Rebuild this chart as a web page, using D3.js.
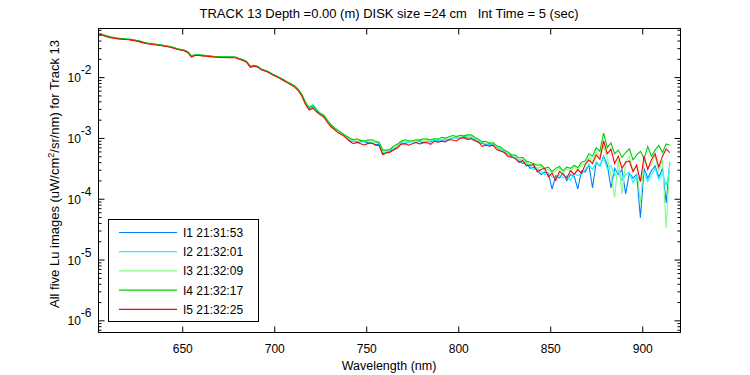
<!DOCTYPE html>
<html>
<head>
<meta charset="utf-8">
<script src="https://cdn.jsdelivr.net/npm/d3@7"></script>
<style>
body { margin: 0; background: #fff; }
svg { display: block; font-family: "Liberation Sans", Arial, sans-serif; }
</style>
</head>
<body>
<script>
// Lu spectra, five images, track 13. Values are log10(Lu), every 2 nm from 605 nm
var wlStart = 605, wlStep = 2;

var seriesNames = ["I1 21:31:53", "I2 21:32:01", "I3 21:32:09", "I4 21:32:17", "I5 21:32:25"];
var seriesColors = ["#0080ff", "#00ffff", "#80ff80", "#00cc00", "#ff0000"];

var xTicks = [650, 700, 750, 800, 850, 900];
var yTickExps = [-6, -5, -4, -3, -2];

var logLuI1 = [
  -1.29,-1.31,-1.33,-1.345,-1.355,-1.365,-1.372,-1.376,-1.38,-1.39,-1.40,-1.415,-1.432,-1.447,-1.454,-1.462,-1.47,-1.479,-1.49,-1.50,-1.515,-1.535,-1.55,-1.56,-1.59,-1.66,-1.64,-1.64,-1.646,-1.652,-1.658,-1.664,-1.668,-1.672,-1.674,-1.674,-1.675,-1.676,-1.70,-1.72,-1.75,-1.83,-1.815,-1.83,-1.875,-1.895,-1.92,-1.955,
  -1.985,-2.015,-2.05,-2.085,-2.115,-2.15,-2.21,-2.30,-2.43,-2.52,-2.49,-2.55,-2.61,-2.64,-2.73,-2.80,-2.855,-2.895,-2.935,-2.98,
  -3.045,-3.055,-3.08,-3.055,-3.065,-3.08,-3.075,-3.11,-3.105,-3.265,-3.235,-3.215,-3.195,-3.125,-3.10,-3.095,-3.07,-3.055,-3.075,-3.06,-3.08,-3.055,-3.065,-3.035,-3.06,-3.035,-3.035,-3.035,-2.995,-3.00,-3.00,-2.985,-3.005,-2.995,-3.025,-3.075,-3.09,-3.11,-3.095,-3.13,-3.155,-3.205,-3.245,-3.265,-3.305,
  -3.33,-3.38,-3.42,-3.40,-3.50,-3.48,-3.53,-3.60,-3.56,-3.58,-3.84,-3.62,-3.66,-3.58,-3.70,-3.60,-3.63,-3.84,-3.54,-3.56,
  -3.44,-3.82,-3.40,-3.46,-3.30,-3.44,-3.82,-3.50,-3.60,-3.52,-3.92,-3.58,-3.66,-3.60,-4.31,-3.50,-3.66,-3.54,-3.46,-3.64,-3.50,-4.07,-3.40
];
var logLuI2 = [
  -1.29,-1.31,-1.33,-1.343,-1.353,-1.364,-1.371,-1.376,-1.38,-1.389,-1.40,-1.414,-1.43,-1.446,-1.454,-1.461,-1.47,-1.478,-1.49,-1.50,-1.514,-1.534,-1.55,-1.56,-1.588,-1.66,-1.64,-1.64,-1.645,-1.651,-1.657,-1.663,-1.667,-1.671,-1.673,-1.673,-1.674,-1.675,-1.70,-1.72,-1.748,-1.83,-1.814,-1.83,-1.874,-1.894,-1.92,-1.954,
  -1.983,-2.012,-2.048,-2.082,-2.112,-2.148,-2.205,-2.295,-2.425,-2.50,-2.45,-2.53,-2.60,-2.63,-2.72,-2.79,-2.85,-2.89,-2.93,-2.97,
  -3.02,-3.06,-3.055,-3.07,-3.05,-3.065,-3.09,-3.075,-3.09,-3.24,-3.24,-3.20,-3.16,-3.13,-3.085,-3.06,-3.075,-3.06,-3.08,-3.045,-3.055,-3.06,-3.05,-3.03,-3.045,-3.03,-3.01,-3.03,-3.00,-2.985,-2.995,-2.98,-2.97,-3.00,-3.01,-3.06,-3.075,-3.095,-3.12,-3.105,-3.14,-3.19,-3.23,-3.25,-3.29,
  -3.34,-3.37,-3.40,-3.44,-3.45,-3.52,-3.50,-3.55,-3.60,-3.58,-3.64,-3.68,-3.60,-3.66,-3.62,-3.70,-3.58,-3.62,-3.60,-3.52,
  -3.44,-3.52,-3.40,-3.46,-3.32,-3.50,-3.46,-3.62,-3.54,-3.70,-3.60,-3.56,-3.74,-3.62,-3.70,-3.58,-3.72,-3.60,-3.50,-3.68,-3.56,-3.78,-3.52
];
var logLuI3 = [
  -1.285,-1.305,-1.325,-1.34,-1.35,-1.36,-1.368,-1.372,-1.376,-1.386,-1.396,-1.411,-1.428,-1.443,-1.45,-1.458,-1.466,-1.475,-1.486,-1.496,-1.511,-1.531,-1.546,-1.556,-1.586,-1.655,-1.636,-1.636,-1.642,-1.648,-1.654,-1.66,-1.664,-1.668,-1.67,-1.67,-1.671,-1.672,-1.696,-1.716,-1.746,-1.825,-1.81,-1.826,-1.871,-1.891,-1.916,-1.951,
  -1.98,-2.01,-2.045,-2.08,-2.11,-2.145,-2.2,-2.29,-2.42,-2.51,-2.48,-2.54,-2.6,-2.63,-2.72,-2.79,-2.85,-2.89,-2.93,-2.97,
  -3.02,-3.03,-3.055,-3.04,-3.05,-3.035,-3.07,-3.065,-3.08,-3.22,-3.22,-3.18,-3.16,-3.12,-3.055,-3.06,-3.045,-3.06,-3.05,-3.025,-3.045,-3.05,-3.03,-3.03,-3.005,-3.03,-3.00,-3.00,-2.99,-2.975,-2.985,-2.95,-2.97,-2.97,-3.01,-3.04,-3.065,-3.095,-3.07,-3.095,-3.15,-3.17,-3.21,-3.26,-3.27,
  -3.30,-3.36,-3.35,-3.40,-3.44,-3.43,-3.50,-3.47,-3.53,-3.52,-3.58,-3.54,-3.50,-3.58,-3.51,-3.55,-3.48,-3.53,-3.44,-3.42,
  -3.32,-3.38,-3.24,-3.30,-3.14,-3.34,-3.60,-3.98,-3.36,-3.92,-3.40,-3.30,-3.56,-3.44,-4.07,-3.36,-3.50,-3.44,-3.30,-3.54,-3.36,-4.48,-3.40
];
var logLuI4 = [
  -1.28,-1.30,-1.32,-1.338,-1.348,-1.358,-1.365,-1.37,-1.373,-1.383,-1.393,-1.408,-1.425,-1.44,-1.447,-1.455,-1.463,-1.472,-1.483,-1.493,-1.508,-1.528,-1.543,-1.553,-1.583,-1.65,-1.632,-1.632,-1.638,-1.644,-1.65,-1.656,-1.66,-1.664,-1.666,-1.666,-1.667,-1.668,-1.692,-1.712,-1.742,-1.82,-1.806,-1.822,-1.867,-1.887,-1.912,-1.947,
  -1.978,-2.008,-2.04,-2.075,-2.108,-2.14,-2.195,-2.285,-2.41,-2.505,-2.47,-2.535,-2.595,-2.625,-2.715,-2.785,-2.84,-2.88,-2.925,-2.965,
  -3.00,-3.03,-3.015,-3.04,-3.05,-3.035,-3.03,-3.055,-3.07,-3.20,-3.20,-3.19,-3.13,-3.10,-3.055,-3.03,-3.045,-3.05,-3.03,-3.035,-3.015,-3.02,-3.03,-3.01,-3.025,-2.99,-3.00,-2.98,-2.96,-2.975,-2.955,-2.97,-2.95,-2.95,-2.99,-3.02,-3.065,-3.055,-3.09,-3.075,-3.13,-3.15,-3.20,-3.23,-3.28,
  -3.28,-3.33,-3.32,-3.38,-3.40,-3.42,-3.45,-3.44,-3.50,-3.48,-3.55,-3.50,-3.47,-3.54,-3.48,-3.50,-3.45,-3.49,-3.40,-3.38,
  -3.26,-3.30,-3.16,-3.22,-2.92,-3.16,-3.08,-3.26,-3.20,-3.32,-3.24,-3.18,-3.36,-3.28,-3.22,-3.34,-3.14,-3.30,-3.20,-3.12,-3.24,-3.10,-3.12
];
var logLuI5 = [
  -1.29,-1.315,-1.335,-1.35,-1.36,-1.37,-1.375,-1.38,-1.385,-1.395,-1.405,-1.42,-1.437,-1.45,-1.46,-1.467,-1.475,-1.484,-1.495,-1.505,-1.52,-1.54,-1.555,-1.565,-1.595,-1.67,-1.645,-1.645,-1.65,-1.657,-1.663,-1.668,-1.672,-1.677,-1.678,-1.68,-1.68,-1.68,-1.705,-1.725,-1.755,-1.84,-1.82,-1.835,-1.88,-1.9,-1.925,-1.96,
  -1.99,-2.02,-2.055,-2.09,-2.125,-2.16,-2.22,-2.31,-2.45,-2.54,-2.51,-2.57,-2.62,-2.66,-2.75,-2.82,-2.87,-2.92,-2.95,-3.0,
  -3.055,-3.095,-3.07,-3.095,-3.115,-3.09,-3.085,-3.12,-3.125,-3.275,-3.245,-3.235,-3.195,-3.165,-3.10,-3.095,-3.12,-3.095,-3.075,-3.10,-3.08,-3.075,-3.105,-3.055,-3.07,-3.055,-3.065,-3.025,-3.035,-3.05,-3.01,-2.995,-3.025,-3.015,-3.045,-3.065,-3.14,-3.12,-3.135,-3.12,-3.195,-3.215,-3.235,-3.305,-3.315,
  -3.34,-3.40,-3.37,-3.46,-3.45,-3.44,-3.56,-3.52,-3.50,-3.64,-3.58,-3.70,-3.55,-3.60,-3.66,-3.54,-3.60,-3.52,-3.58,-3.44,
  -3.36,-3.42,-3.28,-3.35,-3.05,-3.26,-3.18,-3.42,-3.30,-3.50,-3.40,-3.38,-3.55,-3.45,-3.72,-3.30,-3.52,-3.36,-3.26,-3.48,-3.30,-3.18,-3.24
];

var allSeries = [logLuI1, logLuI2, logLuI3, logLuI4, logLuI5];

var svg = d3.select("body").append("svg").attr("width", 750).attr("height", 375),
    margin = {top: 28, right: 70, bottom: 43, left: 98},
    width = 750 - margin.left - margin.right,
    height = 375 - margin.top - margin.bottom,
    g = svg.append("g").attr("transform", "translate(" + (margin.left + 0.5) + "," + (margin.top + 0.5) + ")");

var x = d3.scaleLinear().domain([604.5, 920.8]).range([0, width]);
var y = d3.scaleLog().domain([Math.pow(10, -6.2), Math.pow(10, -1.2)]).range([height, 0]);

// minor log ticks 2..9 for each decade
var minorTicks = [];
for (var e = -7; e <= -2; e++) {
  for (var m = 2; m <= 9; m++) {
    var v = m * Math.pow(10, e);
    if (v >= y.domain()[0] && v <= y.domain()[1]) minorTicks.push(v);
  }
}
var majorTicks = yTickExps.map(function(p) { return Math.pow(10, p); });

g.append("defs").append("clipPath").attr("id", "clip")
  .append("rect").attr("width", width).attr("height", height);

var line = d3.line()
    .x(function(d) { return x(d.wl); })
    .y(function(d) { return y(d.lu); });

var lines = g.append("g").attr("clip-path", "url(#clip)");
allSeries.forEach(function(s, k) {
  var rows = s.map(function(v, i) { return {wl: wlStart + i * wlStep, lu: Math.pow(10, v)}; });
  lines.append("path")
    .datum(rows)
    .attr("fill", "none")
    .attr("stroke", seriesColors[k])
    .attr("stroke-width", 1.1)
    .attr("d", line);
});

// axes: MATLAB style box with inward ticks
function plain(sel) {
  sel.select(".domain").remove();
  sel.selectAll(".tick line").attr("stroke", "#000");
  sel.selectAll("text").attr("fill", "#000").attr("font-size", 12);
}

g.append("g")
  .attr("transform", "translate(0," + height + ")")
  .call(d3.axisBottom(x).tickValues(xTicks).tickSize(-6).tickPadding(12).tickFormat(d3.format("d")))
  .call(plain);

g.append("g")
  .call(d3.axisTop(x).tickValues(xTicks).tickSize(-6).tickFormat(""))
  .call(plain);

[0, width].forEach(function(xx, side) {
  var ax = side === 0 ? d3.axisLeft : d3.axisRight;
  g.append("g").attr("transform", "translate(" + xx + ",0)")
    .call(ax(y).tickValues(majorTicks).tickSize(-6).tickFormat(""))
    .call(plain);
  g.append("g").attr("transform", "translate(" + xx + ",0)")
    .call(ax(y).tickValues(minorTicks).tickSize(-3).tickFormat(""))
    .call(plain);
});

// y tick labels 10^n
var ylab = g.append("g").attr("font-size", 12).attr("fill", "#000");
yTickExps.forEach(function(p) {
  var t = ylab.append("text")
    .attr("x", -31)
    .attr("y", y(Math.pow(10, p)) + 5);
  t.append("tspan").text("10");
  t.append("tspan").attr("dy", -8).text(String(p));
});

g.append("rect")
  .attr("width", width).attr("height", height)
  .attr("fill", "none").attr("stroke", "#000");

svg.append("text")
  .attr("x", margin.left + width / 2)
  .attr("y", 18)
  .attr("text-anchor", "middle")
  .attr("font-size", 13)
  .attr("xml:space", "preserve")
  .text("TRACK 13 Depth =0.00 (m) DISK size =24 cm   Int Time = 5 (sec)");

svg.append("text")
  .attr("x", margin.left + width / 2)
  .attr("y", 370)
  .attr("text-anchor", "middle")
  .attr("font-size", 12.5)
  .text("Wavelength (nm)");

var yl = svg.append("text")
  .attr("transform", "translate(59,174) rotate(-90)")
  .attr("text-anchor", "middle")
  .attr("font-size", 13);
yl.append("tspan").text("All five Lu images (uW/cm");
yl.append("tspan").attr("dy", -5).attr("font-size", 9).text("2");
yl.append("tspan").attr("dy", 5).text("/sr/nm) for Track 13");

// legend
var legend = svg.append("g");
legend.append("rect")
  .attr("x", 108.5).attr("y", 219.5).attr("width", 150).attr("height", 102)
  .attr("fill", "#fff").attr("stroke", "#000");
seriesNames.forEach(function(name, k) {
  var ly = 232.5 + k * 19.2;
  legend.append("line")
    .attr("x1", 119).attr("x2", 177).attr("y1", ly).attr("y2", ly)
    .attr("stroke", seriesColors[k]).attr("stroke-width", 1.2);
  legend.append("text")
    .attr("x", 183).attr("y", ly + 4.5)
    .attr("font-size", 12)
    .text(name);
});
</script>
</body>
</html>
